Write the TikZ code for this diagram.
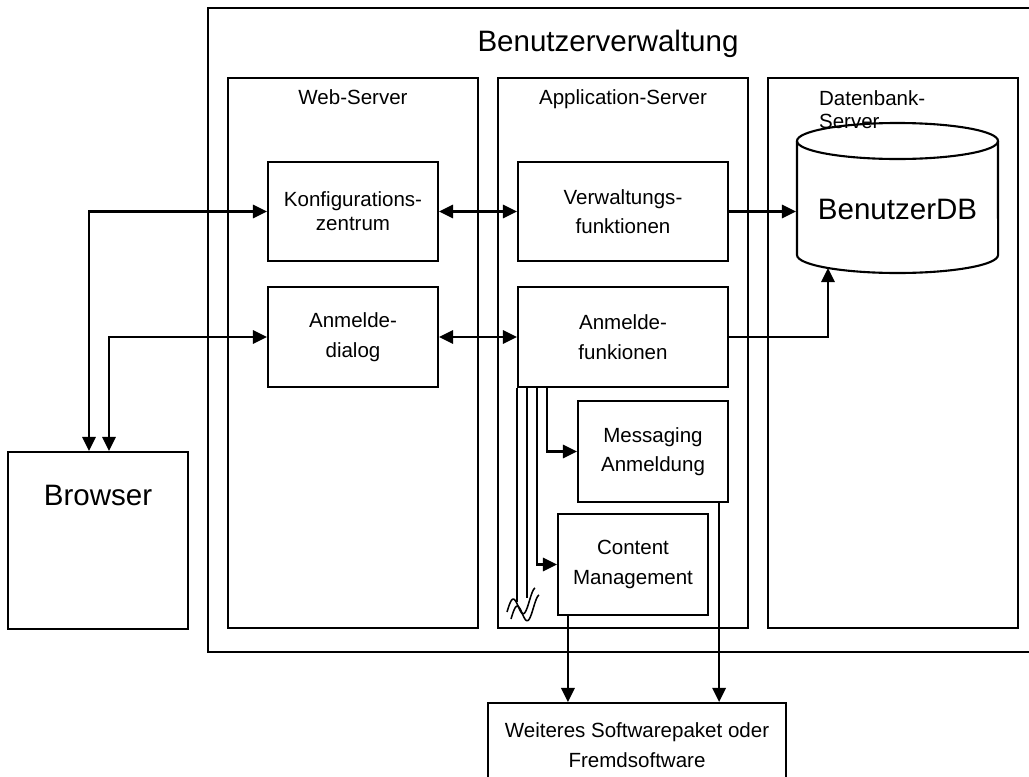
\documentclass[tikz,border=0pt]{standalone}
\usepackage{fontspec}
\setmainfont{Liberation Sans}
\usetikzlibrary{arrows.meta}

\newcommand{\kleintext}{\fontsize{14.6}{21}\selectfont}
\newcommand{\grosstext}{\fontsize{21}{25}\selectfont}

\begin{document}
\begin{tikzpicture}[x=0.025cm,y=-0.025cm,line width=1.5pt]
  \tikzstyle{every node}=[font=\kleintext]
  \tikzstyle{box}=[draw,fill=white,align=center,inner sep=0pt]
  \tikzstyle{pfeil}=[-{Triangle[length=10pt,width=9.5pt]}]
  \tikzstyle{doppel}=[{Triangle[length=10pt,width=9.5pt]}-{Triangle[length=10pt,width=9.5pt]}]
  \useasboundingbox (0,0) rectangle (1029,776);

  \draw (208,8) rectangle (1040,652);
  \draw (228,78) rectangle (478,628);
  \draw (498,78) rectangle (748,628);
  \draw (768,78) rectangle (1018,628);

  \node[anchor=base,font=\grosstext] (titel) at (608,51) {Benutzerverwaltung};
  \node[anchor=base] (webl) at (353,104) {Web-Server};
  \node[anchor=base] (appl) at (623,104) {Application-Server};
  \node[anchor=north west,align=left,inner sep=0pt,font=\fontsize{14.6}{16.4}\selectfont]
    (dbl) at (818,90) {Datenbank-\\Server};

  \node[box,minimum width=4.25cm,minimum height=2.475cm] (konfig) at (353,211.5) {Konfigurations-\\[-4pt]zentrum};
  \node[box,minimum width=5.25cm,minimum height=2.475cm] (verw) at (623,211.5) {Verwaltungs-\\funktionen};
  \node[box,minimum width=4.25cm,minimum height=2.5cm] (adlg) at (353,337) {Anmelde-\\dialog};
  \node[box,minimum width=5.25cm,minimum height=2.5cm] (anmf) at (623,337) {Anmelde-\\funkionen};
  \node[box,minimum width=3.75cm,minimum height=2.525cm] (msg) at (653,451.5) {Messaging\\Anmeldung};
  \node[box,minimum width=3.75cm,minimum height=2.525cm] (cms) at (633,564.5) {Content\\Management};
  \node[box,anchor=north,font=\grosstext,text width=4.5cm,text height=1.325cm,text depth=3.1cm]
    (browser) at (98,451) {Browser};
  \node[box,anchor=north,minimum width=7.45cm,inner ysep=0.5cm] (weiter) at (637,702)
    {Weiteres Softwarepaket oder\\Fremdsoftware};

  \node[minimum width=5.025cm,inner sep=0pt,font=\grosstext] (db) at (897.5,209.5) {BenutzerDB};
  \draw (897.5,141) ellipse [x radius=2.5125cm, y radius=0.45cm];
  \draw (797,141) -- (797,255) arc [start angle=180, end angle=360, x radius=2.5125cm, y radius=0.45cm] -- (998,141);
  \coordinate (dbunten) at (828,268);

  \path (browser.north) ++(-9,0) coordinate (b1) ++(20,0) coordinate (b2);
  \draw[doppel] (konfig.west) -| (b1);
  \draw[doppel] (adlg.west) -| (b2);
  \path[draw,doppel]
  (konfig) edge (verw)
  (adlg) edge (anmf);
  \draw[pfeil] (verw.east) -- (verw.east -| db.west);
  \draw[pfeil] (anmf.east) -| (dbunten);

  \draw[pfeil] (anmf.south west) ++(30,0) |- (msg.west);
  \draw[pfeil] (anmf.south west) ++(20,0) |- (cms.west);
  \draw (anmf.south west) -- ++(0,214);
  \draw (anmf.south west) ++(10,0) -- ++(0,210);
  \draw[line width=1.1pt] plot[domain=0:450,samples=40,smooth] ({507+\x/450*28},{612-\x/450*14-10*sin(\x)});
  \draw[line width=1.1pt] plot[domain=0:450,samples=40,smooth] ({511+\x/450*28},{619-\x/450*14-10*sin(\x)});

  \draw[pfeil] (cms.south west) ++(11,0) coordinate (c1) -- (c1 |- weiter.north);
  \draw[pfeil] (msg.south east) ++(-10,0) coordinate (m1) -- (m1 |- weiter.north);
\end{tikzpicture}
\end{document}
